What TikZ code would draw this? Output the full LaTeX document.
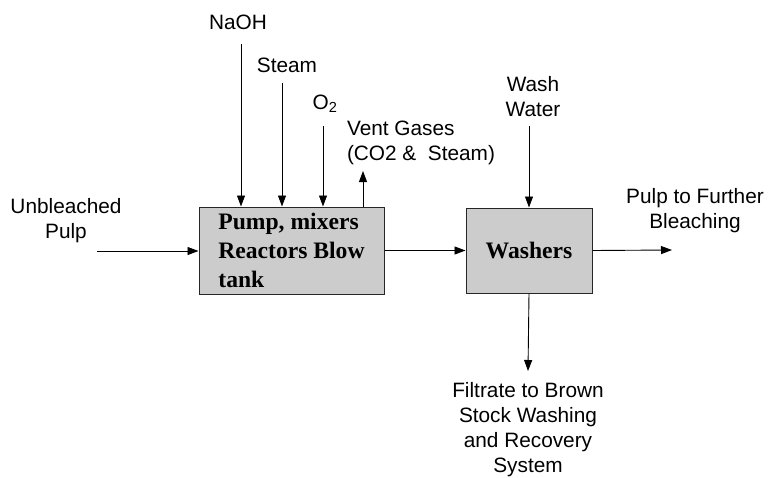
\documentclass[tikz,border=0pt]{standalone}
\usepackage{fontspec}
\setmainfont{Liberation Sans}
\newfontfamily\boxfont{Liberation Serif}
\usetikzlibrary{positioning,arrows.meta}
\definecolor{boxGray}{rgb}{0.80,0.80,0.80}

\begin{document}
\begin{tikzpicture}[
  x=1pt,y=-1pt,
  lbl/.style={align=center,inner sep=0pt,font=\fontsize{20.8}{25}\selectfont},
  unit/.style={draw=black!85,fill=boxGray,line width=1pt,inner sep=0pt,
    font=\boxfont\bfseries\fontsize{23.6}{29}\selectfont},
  arr/.style={-{Triangle[length=11pt,width=8pt]},line width=0.9pt}
]
\useasboundingbox (0,0) rectangle (769,477);

% process units
\node[unit,minimum width=185pt,minimum height=87pt,align=left] (mix) at (291.5,250.5)
  {Pump, mixers\\Reactors Blow\\tank};
\node[unit,minimum width=126pt,minimum height=85pt] (wash) at (529,250.5) {Washers};

% stream labels
\node[lbl] (naoh) at (238,22) {NaOH};
\node[lbl] (steam) at (287,65) {Steam};
\node[lbl] (oxy) at (325,104) {O\textsubscript{2}};
\node[lbl,align=left] (vent) at (421,143) {Vent Gases\\(CO2 \&\ \ Steam)};
\node[lbl] (water) at (533,97) {Wash\\Water};
\node[lbl] (pulpin) at (66,221) {Unbleached\\Pulp};
\node[lbl] (pulpout) at (695,211) {Pulp to Further\\Bleaching};
\node[lbl] (filtrate) at (528,430) {Filtrate to Brown\\Stock Washing\\and Recovery\\System};

% free arrow ends
\coordinate (naohin) at (241,44);
\coordinate (steamin) at (282,83);
\coordinate (oxyin) at (323,126);
\coordinate (ventout) at (363,171);
\coordinate (waterin) at (529,126);
\coordinate (pulpstart) at (97,251);
\coordinate (pulpend) at (672,250);
\coordinate (filtend) at (528,371);

\draw[arr] (naohin) -- (naohin |- mix.north);
\draw[arr] (steamin) -- (steamin |- mix.north);
\draw[arr] (oxyin) -- (oxyin |- mix.north);
\draw[arr] (ventout |- mix.north) -- (ventout);
\draw[arr] (pulpstart) -- (pulpstart -| mix.west);
\draw[arr] (mix.east) -- (wash.west);
\draw[arr] (waterin) -- (waterin |- wash.north);
\draw[arr] (wash.east) -- (pulpend);
\draw[arr] (wash.south) -- (filtend);
\end{tikzpicture}
\end{document}
